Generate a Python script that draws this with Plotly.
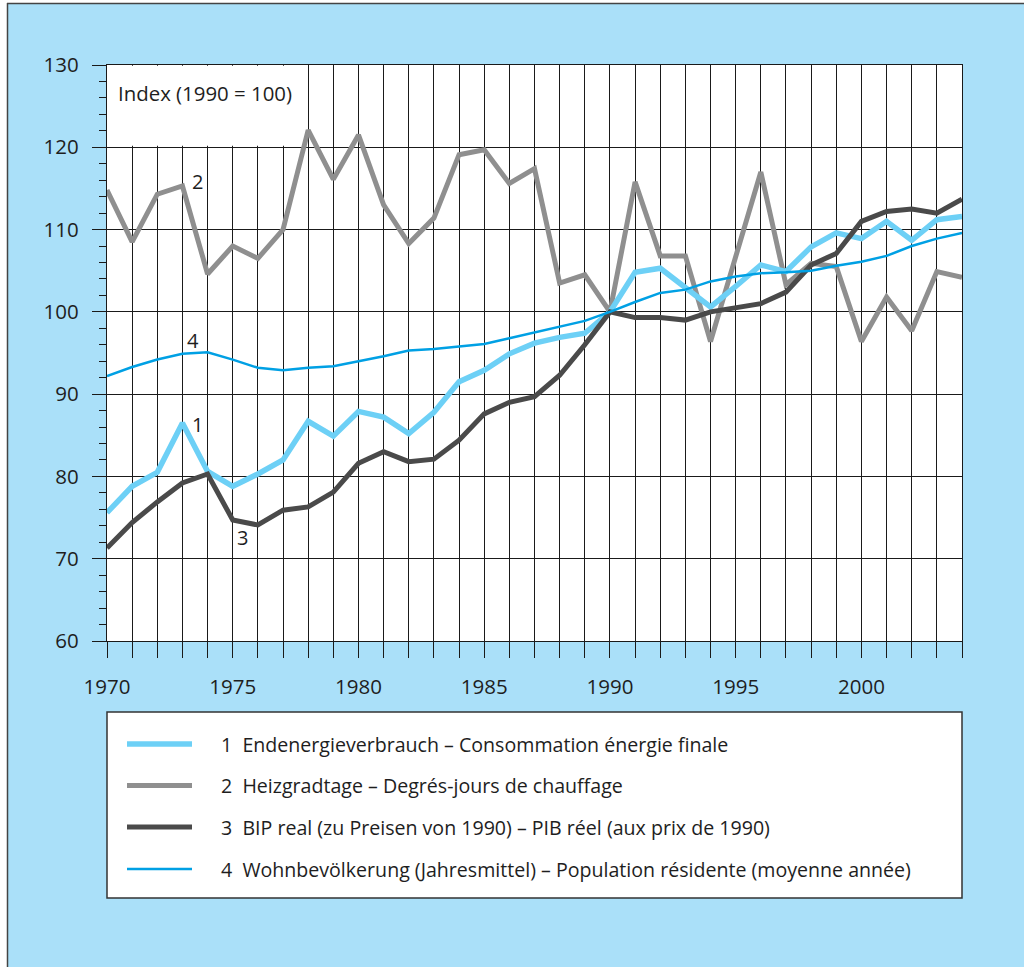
import plotly.graph_objects as go

years = list(range(1970, 2005))

endenergie = [75.6, 78.8, 80.5, 86.5, 80.6, 78.8, 80.3, 82.0, 86.7, 84.9,
              87.9, 87.2, 85.2, 87.8, 91.5, 92.9, 94.9, 96.2, 96.9, 97.4,
              100.0, 104.8, 105.3, 102.9, 100.6, 103.1, 105.7, 104.9, 107.9, 109.6,
              108.9, 111.0, 108.7, 111.2, 111.6]
heizgradtage = [114.8, 108.5, 114.3, 115.3, 104.6, 108.0, 106.5, 110.0, 122.1, 116.1,
                121.5, 113.0, 108.3, 111.4, 119.1, 119.7, 115.6, 117.4, 103.5, 104.5,
                100.0, 115.8, 106.8, 106.8, 96.4, 106.5, 117.0, 103.3, 105.9, 105.5,
                96.4, 101.8, 97.7, 104.9, 104.2]
bip = [71.3, 74.4, 76.9, 79.2, 80.3, 74.7, 74.1, 75.9, 76.3, 78.1,
       81.6, 83.0, 81.8, 82.1, 84.4, 87.6, 89.0, 89.7, 92.3, 96.0,
       100.0, 99.3, 99.3, 99.0, 100.0, 100.5, 101.0, 102.4, 105.7, 107.1,
       111.0, 112.2, 112.5, 112.0, 113.7]
bevoelkerung = [92.2, 93.3, 94.2, 94.9, 95.1, 94.2, 93.2, 92.9, 93.2, 93.4,
                94.0, 94.6, 95.3, 95.5, 95.8, 96.1, 96.8, 97.5, 98.2, 98.9,
                100.0, 101.2, 102.3, 102.7, 103.7, 104.3, 104.7, 104.8, 105.0, 105.6,
                106.1, 106.8, 108.0, 108.9, 109.6]

legend_labels = [
    "1  Endenergieverbrauch – Consommation énergie finale",
    "2  Heizgradtage – Degrés-jours de chauffage",
    "3  BIP real (zu Preisen von 1990) – PIB réel (aux prix de 1990)",
    "4  Wohnbevölkerung (Jahresmittel) – Population résidente (moyenne année)",
]
series_numbers = ["1", "2", "3", "4"]
x_tick_labels = ["1970", "1975", "1980", "1985", "1990", "1995", "2000"]
y_tick_labels = ["60", "70", "80", "90", "100", "110", "120", "130"]

FONT = "Open Sans"
TXT = "#1e1e1e"
BG = "#aae0f9"
GRID = "#1a1a1a"

colors = ["#6dd0f6", "#8f8f8f", "#4a4a4a", "#00a0e4"]
widths = [5.5, 5, 5, 2.5]
data = [endenergie, heizgradtage, bip, bevoelkerung]

fig = go.Figure()
for idx in [1, 0, 2, 3]:
    fig.add_trace(go.Scatter(
        x=years, y=data[idx], mode="lines", name=legend_labels[idx],
        line=dict(color=colors[idx], width=widths[idx]),
        showlegend=False,
    ))

fig.update_layout(
    width=1024, height=967,
    margin=dict(l=107, r=62, t=65, b=326),
    paper_bgcolor=BG, plot_bgcolor="white",
    font=dict(family=FONT, color=TXT, size=18),
    xaxis=dict(
        range=[1970, 2004], showline=True, mirror=True, linecolor=GRID, linewidth=1.3,
        tickvals=[int(t) for t in x_tick_labels], ticktext=x_tick_labels,
        ticks="outside", ticklen=16, tickcolor=GRID, tickwidth=1.3,
        showgrid=True, gridcolor=GRID, gridwidth=1.3,
        minor=dict(dtick=1, ticks="outside", ticklen=16, tickcolor=GRID, tickwidth=1.3,
                   showgrid=True, gridcolor=GRID, gridwidth=1.3),
        tickfont=dict(size=20.5, color=TXT), ticklabelstandoff=11,
        zeroline=False,
    ),
    yaxis=dict(
        range=[60, 130], showline=True, mirror=True, linecolor=GRID, linewidth=1.3,
        tickvals=[int(t) for t in y_tick_labels], ticktext=y_tick_labels,
        ticks="outside", ticklen=14, tickcolor=GRID, tickwidth=1.3,
        showgrid=True, gridcolor=GRID, gridwidth=1.3,
        minor=dict(dtick=2, ticks="outside", ticklen=7, tickcolor=GRID, tickwidth=1.3,
                   showgrid=False),
        tickfont=dict(size=20.5, color=TXT), ticklabelstandoff=9,
        zeroline=False,
    ),
)

# px -> paper helpers
def px_x(p):
    return (p - 107) / 855.0

def px_y(p):
    return (641 - p) / 576.0

shapes = []
# white outside frame strips + frame borders
shapes.append(dict(type="rect", xref="paper", yref="paper", x0=px_x(-5), x1=px_x(7), y0=px_y(980), y1=px_y(-5),
                   fillcolor="white", line=dict(width=0), layer="below"))
shapes.append(dict(type="rect", xref="paper", yref="paper", x0=px_x(-5), x1=px_x(1030), y0=px_y(3), y1=px_y(-5),
                   fillcolor="white", line=dict(width=0), layer="below"))
shapes.append(dict(type="line", xref="paper", yref="paper", x0=px_x(7.5), x1=px_x(7.5), y0=px_y(3), y1=px_y(980),
                   line=dict(color="#444", width=1.5)))
shapes.append(dict(type="line", xref="paper", yref="paper", x0=px_x(7), x1=px_x(1030), y0=px_y(3.5), y1=px_y(3.5),
                   line=dict(color="#444", width=1.5)))
# white box behind the index label
shapes.append(dict(type="rect", xref="x", yref="y", x0=1970.05, x1=1977.95, y0=120.2, y1=129.9,
                   fillcolor="white", line=dict(width=0), layer="between"))
# legend box
shapes.append(dict(type="rect", xref="paper", yref="paper", x0=0, x1=1, y0=px_y(898), y1=px_y(712),
                   fillcolor="white", line=dict(color="#333", width=1.5)))

legend_rows = [744, 785.5, 827, 869]
annotations = []
for i, row in enumerate(legend_rows):
    shapes.append(dict(type="line", xref="paper", yref="paper", x0=px_x(127), x1=px_x(192),
                       y0=px_y(row), y1=px_y(row),
                       line=dict(color=colors[i], width=widths[i])))
    annotations.append(dict(xref="paper", yref="paper", x=px_x(219), y=px_y(row),
                            text=legend_labels[i].replace("  ", "&nbsp;&nbsp;"),
                            showarrow=False, xanchor="left", yanchor="middle",
                            font=dict(size=19.6, color=TXT)))

annotations.append(dict(x=1970.35, y=126.6, xref="x", yref="y", text="Index (1990 = 100)",
                        showarrow=False, xanchor="left", yanchor="middle", font=dict(size=20.4, color=TXT)))
label_pos = [(1973.6, 86.3), (1973.6, 115.8), (1975.4, 72.6), (1973.4, 96.5)]
for num, (lx, ly) in zip(series_numbers, label_pos):
    annotations.append(dict(x=lx, y=ly, xref="x", yref="y", text=num, showarrow=False,
                            xanchor="center", yanchor="middle", font=dict(size=20, color=TXT)))

fig.update_layout(shapes=shapes, annotations=annotations)
fig.write_html("out.html", config={"displayModeBar": False},
               post_script="document.body.style.margin='0';")
